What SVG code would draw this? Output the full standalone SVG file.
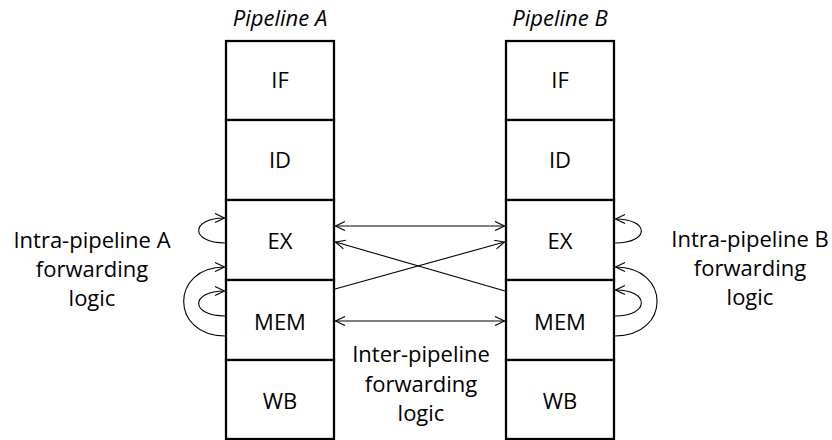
<svg xmlns="http://www.w3.org/2000/svg" width="832" height="440" viewBox="0 0 832 440">
  <style>
    .box { fill: #ffffff; stroke: #000000; stroke-width: 2.25; }
    .lbl { font-family: "Open Sans", "Noto Sans", sans-serif; font-size: 22px; fill: #000000; text-anchor: middle; }
    .title { font-style: italic; }
    .con { fill: none; stroke: #000000; stroke-width: 1.1; }
  </style>
  <defs>
    <marker id="arr" markerUnits="userSpaceOnUse" markerWidth="12" markerHeight="12" viewBox="0 0 12 12" refX="10.5" refY="5" orient="auto-start-reverse">
      <path d="M1,0.5 L10.5,5 L1,9.5" fill="none" stroke="#000000" stroke-width="1.1"/>
    </marker>
  </defs>

  <text class="lbl title" x="280" y="26">Pipeline A</text>
  <text class="lbl title" x="560" y="26">Pipeline B</text>

  <g id="pipelineA">
    <g id="A-IF"><rect class="box" x="226" y="41" width="108" height="79"/><text class="lbl" x="280" y="88">IF</text></g>
    <g id="A-ID"><rect class="box" x="226" y="120" width="108" height="80"/><text class="lbl" x="280" y="168">ID</text></g>
    <g id="A-EX"><rect class="box" x="226" y="200" width="108" height="80"/><text class="lbl" x="280" y="249">EX</text></g>
    <g id="A-MEM"><rect class="box" x="226" y="280" width="108" height="80"/><text class="lbl" x="280" y="330">MEM</text></g>
    <g id="A-WB"><rect class="box" x="226" y="360" width="108" height="79"/><text class="lbl" x="280" y="409">WB</text></g>
  </g>

  <g id="pipelineB">
    <g id="B-IF"><rect class="box" x="506" y="41" width="108" height="79"/><text class="lbl" x="560" y="88">IF</text></g>
    <g id="B-ID"><rect class="box" x="506" y="120" width="108" height="80"/><text class="lbl" x="560" y="168">ID</text></g>
    <g id="B-EX"><rect class="box" x="506" y="200" width="108" height="80"/><text class="lbl" x="560" y="249">EX</text></g>
    <g id="B-MEM"><rect class="box" x="506" y="280" width="108" height="80"/><text class="lbl" x="560" y="330">MEM</text></g>
    <g id="B-WB"><rect class="box" x="506" y="360" width="108" height="79"/><text class="lbl" x="560" y="409">WB</text></g>
  </g>

  <g id="connectors">
    <!-- inter-pipeline -->
    <line class="con" x1="335.5" y1="226" x2="504.5" y2="226" marker-start="url(#arr)" marker-end="url(#arr)"/>
    <line class="con" x1="335.5" y1="321" x2="504.5" y2="321" marker-start="url(#arr)" marker-end="url(#arr)"/>
    <line class="con" x1="335" y1="289" x2="504.5" y2="242" marker-end="url(#arr)"/>
    <line class="con" x1="505" y1="291" x2="335.5" y2="242" marker-end="url(#arr)"/>
    <!-- intra-pipeline A -->
    <path class="con" d="M225,243 C190,243 190,218 224.5,218" marker-end="url(#arr)"/>
    <path class="con" d="M225,316 C190,316 190,291 224.5,291" marker-end="url(#arr)"/>
    <path class="con" d="M225,336 C170,336 170,267 224.5,267" marker-end="url(#arr)"/>
    <!-- intra-pipeline B -->
    <path class="con" d="M615,243 C650,243 650,219 615.5,219" marker-end="url(#arr)"/>
    <path class="con" d="M615,316 C650,316 650,290 615.5,290" marker-end="url(#arr)"/>
    <path class="con" d="M615,336 C671,336 671,267 615.5,267" marker-end="url(#arr)"/>
  </g>

  <g id="label-intraA">
    <text class="lbl" x="92" y="248">Intra-pipeline A</text>
    <text class="lbl" x="92" y="277">forwarding</text>
    <text class="lbl" x="92" y="306">logic</text>
  </g>
  <g id="label-intraB">
    <text class="lbl" x="750" y="247">Intra-pipeline B</text>
    <text class="lbl" x="750" y="276">forwarding</text>
    <text class="lbl" x="750" y="305">logic</text>
  </g>
  <g id="label-inter">
    <text class="lbl" x="421" y="362">Inter-pipeline</text>
    <text class="lbl" x="421" y="392">forwarding</text>
    <text class="lbl" x="421" y="421">logic</text>
  </g>
</svg>
